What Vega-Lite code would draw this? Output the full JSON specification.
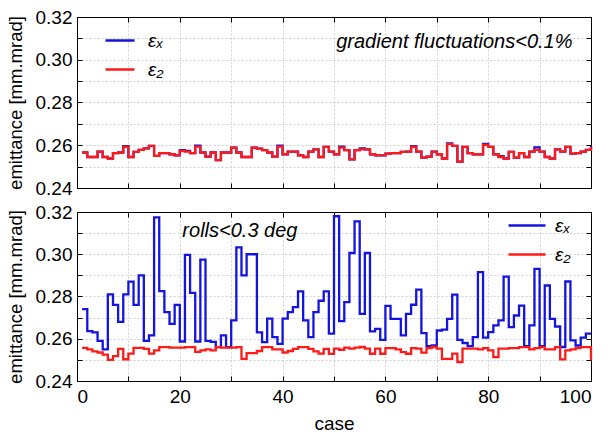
{
  "$schema": "https://vega.github.io/schema/vega-lite/v6.json",
  "background": "white",
  "padding": {"left": 5, "top": 7, "right": 0, "bottom": 0},
  "bounds": "flush",
  "spacing": 24,
  "config": {
    "font": "Liberation Sans",
    "view": {"stroke": "black", "strokeWidth": 1},
    "axis": {"domain": false, "tickColor": "black", "tickSize": -5, "labelColor": "black", "titleColor": "black", "labelFontSize": 19, "titleFontSize": 18.5, "titleFontWeight": "normal", "gridColor": "#c4c4c4", "gridDash": [2, 2], "gridWidth": 0.8},
    "legend": {"symbolType": "stroke", "symbolStrokeWidth": 2.5, "labelFontSize": 19, "labelFontStyle": "italic", "labelColor": "black", "rowPadding": 0, "clipHeight": 29, "title": null}
  },
  "datasets": {
    "top": [
      {"case":1,"ex":0.2566,"e2":0.2566},{"case":2,"ex":0.2545,"e2":0.2545},{"case":3,"ex":0.2545,"e2":0.2545},{"case":4,"ex":0.2570,"e2":0.2570},{"case":5,"ex":0.2545,"e2":0.2545},
      {"case":6,"ex":0.2538,"e2":0.2538},{"case":7,"ex":0.2563,"e2":0.2563},{"case":8,"ex":0.2566,"e2":0.2566},{"case":9,"ex":0.2596,"e2":0.2592},{"case":10,"ex":0.2545,"e2":0.2545},
      {"case":11,"ex":0.2569,"e2":0.2569},{"case":12,"ex":0.2578,"e2":0.2578},{"case":13,"ex":0.2585,"e2":0.2585},{"case":14,"ex":0.2597,"e2":0.2597},{"case":15,"ex":0.2550,"e2":0.2550},
      {"case":16,"ex":0.2563,"e2":0.2563},{"case":17,"ex":0.2563,"e2":0.2563},{"case":18,"ex":0.2558,"e2":0.2558},{"case":19,"ex":0.2553,"e2":0.2553},{"case":20,"ex":0.2577,"e2":0.2573},
      {"case":21,"ex":0.2574,"e2":0.2570},{"case":22,"ex":0.2563,"e2":0.2563},{"case":23,"ex":0.2598,"e2":0.2594},{"case":24,"ex":0.2566,"e2":0.2566},{"case":25,"ex":0.2547,"e2":0.2547},
      {"case":26,"ex":0.2566,"e2":0.2566},{"case":27,"ex":0.2530,"e2":0.2530},{"case":28,"ex":0.2566,"e2":0.2566},{"case":29,"ex":0.2566,"e2":0.2566},{"case":30,"ex":0.2589,"e2":0.2589},
      {"case":31,"ex":0.2566,"e2":0.2566},{"case":32,"ex":0.2545,"e2":0.2545},{"case":33,"ex":0.2545,"e2":0.2545},{"case":34,"ex":0.2589,"e2":0.2589},{"case":35,"ex":0.2584,"e2":0.2584},
      {"case":36,"ex":0.2577,"e2":0.2577},{"case":37,"ex":0.2566,"e2":0.2566},{"case":38,"ex":0.2547,"e2":0.2547},{"case":39,"ex":0.2598,"e2":0.2594},{"case":40,"ex":0.2558,"e2":0.2558},
      {"case":41,"ex":0.2570,"e2":0.2570},{"case":42,"ex":0.2570,"e2":0.2570},{"case":43,"ex":0.2553,"e2":0.2553},{"case":44,"ex":0.2545,"e2":0.2545},{"case":45,"ex":0.2570,"e2":0.2570},
      {"case":46,"ex":0.2581,"e2":0.2581},{"case":47,"ex":0.2545,"e2":0.2545},{"case":48,"ex":0.2592,"e2":0.2592},{"case":49,"ex":0.2570,"e2":0.2570},{"case":50,"ex":0.2558,"e2":0.2558},
      {"case":51,"ex":0.2593,"e2":0.2589},{"case":52,"ex":0.2577,"e2":0.2577},{"case":53,"ex":0.2534,"e2":0.2534},{"case":54,"ex":0.2577,"e2":0.2577},{"case":55,"ex":0.2585,"e2":0.2581},
      {"case":56,"ex":0.2581,"e2":0.2581},{"case":57,"ex":0.2558,"e2":0.2558},{"case":58,"ex":0.2553,"e2":0.2553},{"case":59,"ex":0.2553,"e2":0.2553},{"case":60,"ex":0.2561,"e2":0.2561},
      {"case":61,"ex":0.2563,"e2":0.2563},{"case":62,"ex":0.2563,"e2":0.2563},{"case":63,"ex":0.2569,"e2":0.2569},{"case":64,"ex":0.2570,"e2":0.2570},{"case":65,"ex":0.2596,"e2":0.2592},
      {"case":66,"ex":0.2570,"e2":0.2570},{"case":67,"ex":0.2542,"e2":0.2542},{"case":68,"ex":0.2547,"e2":0.2547},{"case":69,"ex":0.2570,"e2":0.2570},{"case":70,"ex":0.2558,"e2":0.2558},
      {"case":71,"ex":0.2538,"e2":0.2538},{"case":72,"ex":0.2609,"e2":0.2605},{"case":73,"ex":0.2597,"e2":0.2597},{"case":74,"ex":0.2523,"e2":0.2523},{"case":75,"ex":0.2592,"e2":0.2592},
      {"case":76,"ex":0.2563,"e2":0.2563},{"case":77,"ex":0.2558,"e2":0.2558},{"case":78,"ex":0.2558,"e2":0.2558},{"case":79,"ex":0.2606,"e2":0.2602},{"case":80,"ex":0.2592,"e2":0.2592},
      {"case":81,"ex":0.2558,"e2":0.2558},{"case":82,"ex":0.2549,"e2":0.2545},{"case":83,"ex":0.2538,"e2":0.2538},{"case":84,"ex":0.2569,"e2":0.2569},{"case":85,"ex":0.2542,"e2":0.2542},
      {"case":86,"ex":0.2563,"e2":0.2563},{"case":87,"ex":0.2545,"e2":0.2545},{"case":88,"ex":0.2570,"e2":0.2570},{"case":89,"ex":0.2590,"e2":0.2578},{"case":90,"ex":0.2570,"e2":0.2570},
      {"case":91,"ex":0.2545,"e2":0.2545},{"case":92,"ex":0.2538,"e2":0.2538},{"case":93,"ex":0.2581,"e2":0.2581},{"case":94,"ex":0.2570,"e2":0.2570},{"case":95,"ex":0.2592,"e2":0.2592},
      {"case":96,"ex":0.2561,"e2":0.2561},{"case":97,"ex":0.2563,"e2":0.2563},{"case":98,"ex":0.2570,"e2":0.2570},{"case":99,"ex":0.2578,"e2":0.2578},{"case":100,"ex":0.2596,"e2":0.2592}
    ],
    "bottom": [
      {"case":1,"ex":0.274,"e2":0.2557},{"case":2,"ex":0.2636,"e2":0.2550},{"case":3,"ex":0.263,"e2":0.2540},{"case":4,"ex":0.259,"e2":0.2535},{"case":5,"ex":0.255,"e2":0.2525},
      {"case":6,"ex":0.281,"e2":0.2500},{"case":7,"ex":0.276,"e2":0.2518},{"case":8,"ex":0.268,"e2":0.2552},{"case":9,"ex":0.281,"e2":0.2503},{"case":10,"ex":0.287,"e2":0.2530},
      {"case":11,"ex":0.276,"e2":0.2557},{"case":12,"ex":0.290,"e2":0.2557},{"case":13,"ex":0.259,"e2":0.2552},{"case":14,"ex":0.2616,"e2":0.2530},{"case":15,"ex":0.3175,"e2":0.2545},
      {"case":16,"ex":0.2825,"e2":0.2560},{"case":17,"ex":0.2726,"e2":0.2560},{"case":18,"ex":0.267,"e2":0.2558},{"case":19,"ex":0.276,"e2":0.2558},{"case":20,"ex":0.2587,"e2":0.2558},
      {"case":21,"ex":0.2997,"e2":0.2560},{"case":22,"ex":0.2817,"e2":0.2560},{"case":23,"ex":0.2587,"e2":0.2538},{"case":24,"ex":0.2975,"e2":0.2545},{"case":25,"ex":0.259,"e2":0.2550},
      {"case":26,"ex":0.2585,"e2":0.2545},{"case":27,"ex":0.256,"e2":0.2560},{"case":28,"ex":0.2616,"e2":0.2558},{"case":29,"ex":0.256,"e2":0.2558},{"case":30,"ex":0.2687,"e2":0.2558},
      {"case":31,"ex":0.3033,"e2":0.2560},{"case":32,"ex":0.290,"e2":0.2505},{"case":33,"ex":0.300,"e2":0.2532},{"case":34,"ex":0.300,"e2":0.2532},{"case":35,"ex":0.263,"e2":0.2542},
      {"case":36,"ex":0.2584,"e2":0.2560},{"case":37,"ex":0.2695,"e2":0.2560},{"case":38,"ex":0.2608,"e2":0.2550},{"case":39,"ex":0.2576,"e2":0.2550},{"case":40,"ex":0.2695,"e2":0.2535},
      {"case":41,"ex":0.2726,"e2":0.2542},{"case":42,"ex":0.275,"e2":0.2552},{"case":43,"ex":0.2824,"e2":0.2560},{"case":44,"ex":0.2687,"e2":0.2560},{"case":45,"ex":0.2608,"e2":0.2552},
      {"case":46,"ex":0.2726,"e2":0.2540},{"case":47,"ex":0.278,"e2":0.2530},{"case":48,"ex":0.2824,"e2":0.2552},{"case":49,"ex":0.2624,"e2":0.2528},{"case":50,"ex":0.318,"e2":0.2553},
      {"case":51,"ex":0.2683,"e2":0.2548},{"case":52,"ex":0.2773,"e2":0.2558},{"case":53,"ex":0.3006,"e2":0.2553},{"case":54,"ex":0.3156,"e2":0.2558},{"case":55,"ex":0.2718,"e2":0.2561},
      {"case":56,"ex":0.3006,"e2":0.2553},{"case":57,"ex":0.2635,"e2":0.2529},{"case":58,"ex":0.2647,"e2":0.2553},{"case":59,"ex":0.2595,"e2":0.2529},{"case":60,"ex":0.2756,"e2":0.2556},
      {"case":61,"ex":0.2694,"e2":0.2556},{"case":62,"ex":0.2694,"e2":0.2550},{"case":63,"ex":0.2616,"e2":0.2537},{"case":64,"ex":0.2718,"e2":0.2529},{"case":65,"ex":0.2761,"e2":0.2556},
      {"case":66,"ex":0.2833,"e2":0.2553},{"case":67,"ex":0.2627,"e2":0.2534},{"case":68,"ex":0.2565,"e2":0.2556},{"case":69,"ex":0.2568,"e2":0.2561},{"case":70,"ex":0.2639,"e2":0.2553},
      {"case":71,"ex":0.2643,"e2":0.2505},{"case":72,"ex":0.2694,"e2":0.2505},{"case":73,"ex":0.2809,"e2":0.2530},{"case":74,"ex":0.2595,"e2":0.2490},{"case":75,"ex":0.258,"e2":0.2553},
      {"case":76,"ex":0.2565,"e2":0.2553},{"case":77,"ex":0.2608,"e2":0.2553},{"case":78,"ex":0.2915,"e2":0.2550},{"case":79,"ex":0.2605,"e2":0.2556},{"case":80,"ex":0.2631,"e2":0.2545},
      {"case":81,"ex":0.2663,"e2":0.2513},{"case":82,"ex":0.2687,"e2":0.2553},{"case":83,"ex":0.2894,"e2":0.2553},{"case":84,"ex":0.2655,"e2":0.2556},{"case":85,"ex":0.271,"e2":0.2556},
      {"case":86,"ex":0.2757,"e2":0.2560},{"case":87,"ex":0.2565,"e2":0.2560},{"case":88,"ex":0.2663,"e2":0.2550},{"case":89,"ex":0.2931,"e2":0.2556},{"case":90,"ex":0.2565,"e2":0.2560},
      {"case":91,"ex":0.2852,"e2":0.2550},{"case":92,"ex":0.2694,"e2":0.2550},{"case":93,"ex":0.2658,"e2":0.2560},{"case":94,"ex":0.2561,"e2":0.2502},{"case":95,"ex":0.2871,"e2":0.2545},
      {"case":96,"ex":0.2592,"e2":0.2550},{"case":97,"ex":0.2568,"e2":0.2556},{"case":98,"ex":0.2605,"e2":0.2560},{"case":99,"ex":0.2624,"e2":0.2560},{"case":100,"ex":0.2624,"e2":0.2498}
    ]
  },
  "resolve": {"scale": {"color": "independent"}, "legend": {"color": "independent"}},
  "vconcat": [
    {
      "width": 514,
      "height": 171,
      "resolve": {"axis": {"x": "independent", "y": "independent"}},
      "layer": [
        {
          "data": {"name": "top"},
          "mark": {"type": "line", "interpolate": "step-after", "strokeWidth": 2.3},
          "encoding": {
            "x": {"field": "case", "type": "quantitative", "scale": {"domain": [0, 100], "nice": false},
                  "axis": {"orient": "bottom", "values": [0,10,20,30,40,50,60,70,80,90,100], "labels": false, "title": null, "grid": true,
                           "gridOpacity": {"condition": {"test": "datum.value <= 0 || datum.value >= 100", "value": 0}, "value": 1}}},
            "y": {"field": "ex", "type": "quantitative", "scale": {"domain": [0.24, 0.32], "nice": false, "zero": false},
                  "axis": {"orient": "left", "values": [0.24,0.25,0.26,0.27,0.28,0.29,0.30,0.31,0.32],
                           "labelExpr": "round(datum.value*100) % 2 == 0 ? format(datum.value, '.2f') : ''",
                           "labelPadding": 10, "title": "emittance [mm.mrad]", "titlePadding": 10, "grid": true,
                           "gridOpacity": {"condition": {"test": "datum.value <= 0.2401 || datum.value >= 0.3199", "value": 0}, "value": 1}}},
            "color": {"datum": "εₓ", "type": "nominal", "scale": {"domain": ["εₓ", "ε₂"], "range": ["#1414e0", "#ff1a1a"]},
                      "legend": {"orient": "none", "legendX": 27, "legendY": 9, "symbolSize": 841, "labelOffset": 12}}
          }
        },
        {
          "data": {"name": "top"},
          "mark": {"type": "line", "interpolate": "step-after", "strokeWidth": 2.3},
          "encoding": {
            "x": {"field": "case", "type": "quantitative", "axis": {"orient": "top", "values": [0,10,20,30,40,50,60,70,80,90,100], "labels": false, "title": null, "grid": false}},
            "y": {"field": "e2", "type": "quantitative", "axis": {"orient": "right", "values": [0.24,0.25,0.26,0.27,0.28,0.29,0.30,0.31,0.32], "labels": false, "title": null, "grid": false}},
            "color": {"datum": "ε₂", "type": "nominal"}
          }
        },
        {
          "data": {"values": [{"x": 96.4, "y": 0.3085, "t": "gradient fluctuations<0.1%"}]},
          "mark": {"type": "text", "align": "right", "baseline": "middle", "fontStyle": "italic", "fontSize": 20, "color": "black"},
          "encoding": {
            "x": {"field": "x", "type": "quantitative", "axis": null},
            "y": {"field": "y", "type": "quantitative", "axis": null},
            "text": {"field": "t"}
          }
        }
      ]
    },
    {
      "width": 514,
      "height": 169,
      "resolve": {"axis": {"x": "independent", "y": "independent"}},
      "layer": [
        {
          "data": {"name": "bottom"},
          "mark": {"type": "line", "interpolate": "step-after", "strokeWidth": 2.3},
          "encoding": {
            "x": {"field": "case", "type": "quantitative", "scale": {"domain": [0, 100], "nice": false},
                  "axis": {"orient": "bottom", "values": [0,10,20,30,40,50,60,70,80,90,100],
                           "labelExpr": "datum.value % 20 == 0 ? format(datum.value, 'd') : ''",
                           "labelPadding": 11, "title": "case", "titlePadding": 8, "titleFontSize": 19, "grid": true,
                           "gridOpacity": {"condition": {"test": "datum.value <= 0 || datum.value >= 100", "value": 0}, "value": 1}}},
            "y": {"field": "ex", "type": "quantitative", "scale": {"domain": [0.24, 0.32], "nice": false, "zero": false},
                  "axis": {"orient": "left", "values": [0.24,0.25,0.26,0.27,0.28,0.29,0.30,0.31,0.32],
                           "labelExpr": "round(datum.value*100) % 2 == 0 ? format(datum.value, '.2f') : ''",
                           "labelPadding": 10, "title": "emittance [mm.mrad]", "titlePadding": 10, "grid": true,
                           "gridOpacity": {"condition": {"test": "datum.value <= 0.2401 || datum.value >= 0.3199", "value": 0}, "value": 1}}},
            "color": {"datum": "εₓ", "type": "nominal", "scale": {"domain": ["εₓ", "ε₂"], "range": ["#1414e0", "#ff1a1a"]},
                      "legend": {"orient": "none", "legendX": 430, "legendY": -1, "symbolSize": 1369, "labelOffset": 8}}
          }
        },
        {
          "data": {"name": "bottom"},
          "mark": {"type": "line", "interpolate": "step-after", "strokeWidth": 2.3},
          "encoding": {
            "x": {"field": "case", "type": "quantitative", "axis": {"orient": "top", "values": [0,10,20,30,40,50,60,70,80,90,100], "labels": false, "title": null, "grid": false}},
            "y": {"field": "e2", "type": "quantitative", "axis": {"orient": "right", "values": [0.24,0.25,0.26,0.27,0.28,0.29,0.30,0.31,0.32], "labels": false, "title": null, "grid": false}},
            "color": {"datum": "ε₂", "type": "nominal"}
          }
        },
        {
          "data": {"values": [{"x": 20.5, "y": 0.3109, "t": "rolls<0.3 deg"}]},
          "mark": {"type": "text", "align": "left", "baseline": "middle", "fontStyle": "italic", "fontSize": 20, "color": "black"},
          "encoding": {
            "x": {"field": "x", "type": "quantitative", "axis": null},
            "y": {"field": "y", "type": "quantitative", "axis": null},
            "text": {"field": "t"}
          }
        }
      ]
    }
  ]
}
